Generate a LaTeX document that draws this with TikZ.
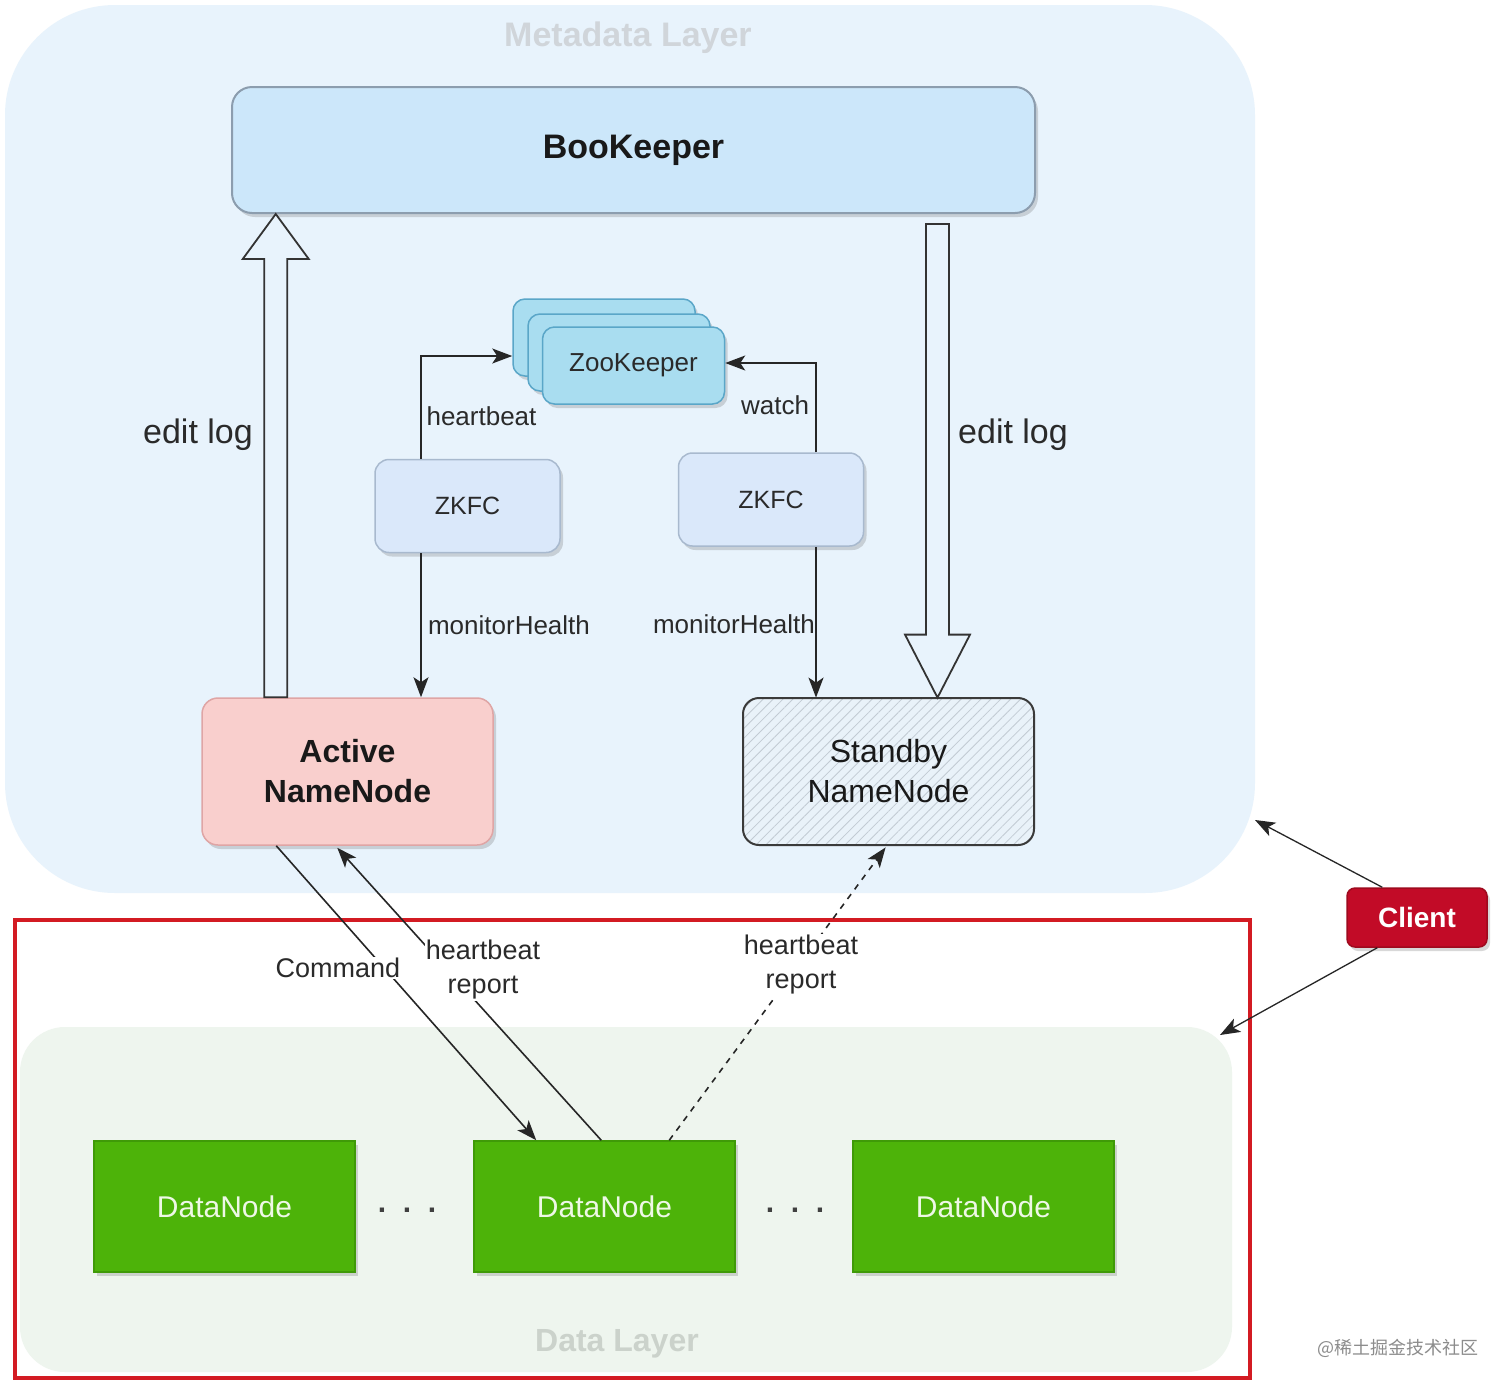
\documentclass[tikz,border=0pt]{standalone}
\usepackage{fontspec}
\setmainfont{Liberation Sans}
\newfontfamily\cjkfont{Noto Sans CJK SC}
\usetikzlibrary{calc,shadows,patterns.meta,arrows.meta}
\definecolor{metabg}{HTML}{E8F3FC}
\definecolor{bkfill}{HTML}{CCE7FA}
\definecolor{bkdraw}{HTML}{8C9DAE}
\definecolor{zkfill}{HTML}{A9DDF0}
\definecolor{zkdraw}{HTML}{5AA6C8}
\definecolor{zkfcfill}{HTML}{DAE8FA}
\definecolor{zkfcdraw}{HTML}{A8B9CE}
\definecolor{anfill}{HTML}{F9CFCD}
\definecolor{andraw}{HTML}{DFA5A5}
\definecolor{snfill}{HTML}{E9F2F9}
\definecolor{hatchc}{HTML}{C2CBD3}
\definecolor{sndraw}{HTML}{3A3A3A}
\definecolor{dnfill}{HTML}{4DB309}
\definecolor{dndraw}{HTML}{3F9A07}
\definecolor{dntext}{HTML}{EEF8E6}
\definecolor{clfill}{HTML}{C20B27}
\definecolor{cldraw}{HTML}{9E0A1E}
\definecolor{redbox}{HTML}{D31B23}
\definecolor{databg}{HTML}{EEF5EE}
\definecolor{titlegrey}{HTML}{D0D5DA}
\definecolor{datatitle}{HTML}{CBD2CB}
\definecolor{labelc}{HTML}{2A2A2A}
\tikzset{
  shad/.style={drop shadow={shadow xshift=3pt,shadow yshift=-4pt,opacity=0.25,fill=black!60}},
  bkbox/.style={draw=bkdraw,line width=2pt,fill=bkfill,rounded corners=20pt,minimum width=803pt,minimum height=126pt,shad,font=\fontsize{34}{40}\selectfont\bfseries,text=black!90},
  zkcard/.style={draw=zkdraw,line width=1.5pt,fill=zkfill,rounded corners=12pt,minimum width=182pt,minimum height=77pt,shad},
  zkfcbox/.style={draw=zkfcdraw,line width=1.5pt,fill=zkfcfill,rounded corners=14pt,minimum width=185pt,minimum height=93pt,shad,font=\fontsize{25}{30}\selectfont,text=labelc},
  nnbox/.style={rounded corners=16pt,minimum width=291pt,minimum height=147pt,align=center,font=\fontsize{32}{40}\selectfont,text=black!90},
  dnbox/.style={draw=dndraw,line width=1.5pt,fill=dnfill,minimum width=261pt,minimum height=131pt,shad,font=\fontsize{30}{36}\selectfont,text=dntext},
  conn/.style={draw=black!85,line width=1.6pt,-{Stealth[length=20pt,width=15pt,inset=5pt]}},
  lbl/.style={font=\fontsize{26}{31}\selectfont,text=labelc,inner sep=1pt},
  bigarrow/.style={draw=black!80,line width=1.8pt,fill=metabg,line join=miter},
}
\begin{document}
\begin{tikzpicture}[x=1pt,y=-1pt]
\useasboundingbox (0,0) rectangle (1512,1393);
\fill[white] (0,0) rectangle (1512,1393);
% layers
\fill[metabg,rounded corners=110pt] (5,5) rectangle (1255,893);
\fill[databg,rounded corners=45pt] (20,1027) rectangle (1232,1372);
\draw[redbox,line width=3.5pt] (15,920) rectangle (1250,1378);
\node[font=\fontsize{34}{40}\selectfont\bfseries,text=titlegrey] (mtitle) at (628,38) {Metadata Layer};
\node[font=\fontsize{32}{38}\selectfont\bfseries,text=datatitle] (dtitle) at (617,1344) {Data Layer};
% BookKeeper
\node[bkbox] (bk) at (633.5,150) {BooKeeper};
% ZooKeeper stack
\node[zkcard] (zk3) at (604,337.5) {};
\node[zkcard] (zk2) at (619,352.5) {};
\node[zkcard,font=\fontsize{26}{31}\selectfont,text=labelc] (zk1) at (633.5,365.5) {ZooKeeper};
% ZKFC
\node[zkfcbox] (zl) at (467.5,506) {ZKFC};
\node[zkfcbox] (zr) at (771,499.5) {ZKFC};
% NameNodes
\node[nnbox,draw=andraw,line width=1.5pt,fill=anfill,shad,font=\fontsize{32}{40}\selectfont\bfseries] (an) at (347.5,771.5) {Active\\NameNode};
\node[nnbox,draw=sndraw,line width=2pt,preaction={fill=snfill},pattern={Lines[angle=45,distance=7pt,line width=0.8pt]},pattern color=hatchc] (sn) at (888.5,771.5) {Standby\\NameNode};
% DataNodes
\node[dnbox] (d1) at (224.5,1206.5) {DataNode};
\node[dnbox] (d2) at (604.5,1206.5) {DataNode};
\node[dnbox] (d3) at (983.5,1206.5) {DataNode};
\node[font=\fontsize{30}{36}\selectfont\bfseries,text=black!75,anchor=base] (dots1) at (407,1212) {.\ \ .\ \ .};
\node[font=\fontsize{30}{36}\selectfont\bfseries,text=black!75,anchor=base] (dots2) at (795,1212) {.\ \ .\ \ .};
% Client
\node[draw=cldraw,line width=1.5pt,fill=clfill,rounded corners=8pt,minimum width=140pt,minimum height=59pt,shad,font=\fontsize{28}{34}\selectfont\bfseries,text=white] (cl) at (1417,917.5) {Client};
% big edit log arrows
\coordinate (lab) at ($(an.north west)+(74.5,0)$);
\coordinate (lt) at (lab |- bk.south);
\draw[bigarrow] ($(lab)+(-11.5,0)$) -- ($(lt)+(-11.5,45)$) -- ($(lt)+(-33,45)$) -- (lt) -- ($(lt)+(33,45)$) -- ($(lt)+(11.5,45)$) -- ($(lab)+(11.5,0)$) -- cycle;
\coordinate (rab) at ($(bk.south west)+(706.5,10)$);
\coordinate (rt) at (rab |- sn.north);
\draw[bigarrow] ($(rab)+(-11.5,0)$) -- ($(rt)+(-11.5,-63)$) -- ($(rt)+(-32.5,-63)$) -- (rt) -- ($(rt)+(32.5,-63)$) -- ($(rt)+(11.5,-63)$) -- ($(rab)+(11.5,0)$) -- cycle;
\node[font=\fontsize{34}{40}\selectfont,text=labelc] (el1) at (198,435) {edit log};
\node[font=\fontsize{34}{40}\selectfont,text=labelc] (el2) at (1013,435) {edit log};
% ZKFC connectors
\coordinate (zlt) at ($(zl.north)+(-46.5,0)$);
\coordinate (zkin) at ($(zk3.west)+(0,18.5)$);
\draw[conn] (zlt) |- (zkin);
\node[lbl] (hb1) at (481.5,416) {heartbeat};
\coordinate (zrt) at ($(zr.north)+(45,0)$);
\coordinate (zkout) at ($(zk1.east)+(0,-2.5)$);
\draw[conn] (zrt) |- (zkout);
\node[lbl] (w1) at (775,405) {watch};
\coordinate (zlb) at ($(zl.south)+(-46.5,0)$);
\draw[conn] (zlb) -- (zlb |- an.north);
\node[lbl] (mh1) at (509,625) {monitorHealth};
\coordinate (zrb) at ($(zr.south)+(45,0)$);
\draw[conn] (zrb) -- (zrb |- sn.north);
\node[lbl] (mh2) at (734,624) {monitorHealth};
% data layer connectors
\coordinate (cmdA) at ($(an.south west)+(75,0)$);
\coordinate (cmdB) at ($(d2.north west)+(63,0)$);
\draw[conn] (cmdA) -- (cmdB);
\coordinate (hbA) at ($(d2.north west)+(128,0)$);
\coordinate (hbB) at ($(an.south west)+(136,2)$);
\draw[conn] (hbA) -- (hbB);
\coordinate (sbA) at ($(d2.north west)+(196,0)$);
\coordinate (sbB) at ($(sn.south west)+(143,2)$);
\draw[conn,dash pattern=on 6pt off 6pt] (sbA) -- (sbB);
\node[lbl,fill=white,font=\fontsize{27}{32}\selectfont] (cmdl) at (338,968) {Command};
\node[lbl,fill=white,align=center,font=\fontsize{27}{34}\selectfont] (hbl1) at (483,970) {heartbeat\\report};
\node[lbl,fill=white,align=center,font=\fontsize{27}{34}\selectfont] (hbl2) at (801,965) {heartbeat\\report};
% client connectors
\coordinate (cm) at (1255,820);
\coordinate (cd) at (1220,1035);
\draw[conn,line width=1.3pt] ($(cl.north west)+(36,0)$) -- (cm);
\draw[conn,line width=1.3pt] ($(cl.south west)+(31,0)$) -- (cd);
% watermark
\node[font=\cjkfont\fontsize{18}{22}\selectfont,text=black!45] (wm) at (1398,1348) {@稀土掘金技术社区};
\end{tikzpicture}
\end{document}
